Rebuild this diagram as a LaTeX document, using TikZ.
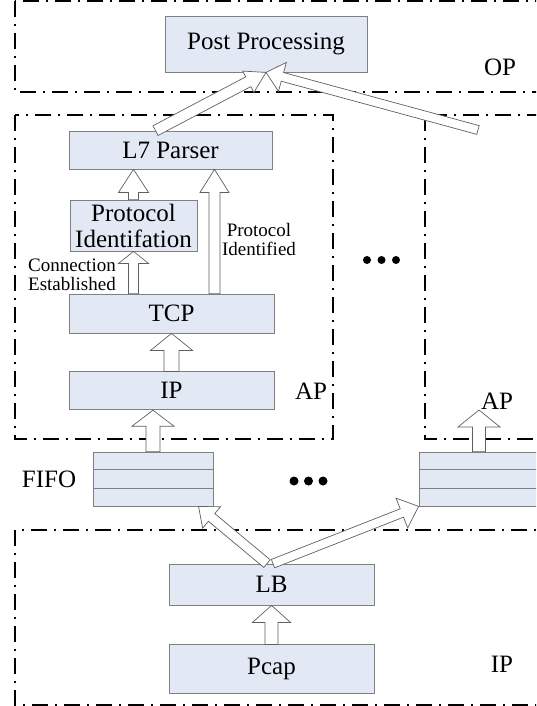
\documentclass[tikz,border=0pt]{standalone}
\usepackage{fontspec}
\setmainfont{Liberation Serif}
\usetikzlibrary{positioning,calc}

\definecolor{boxblue}{RGB}{226,233,244}
\definecolor{boxline}{RGB}{128,128,128}

% hollow block arrow: [opts]{from}{to}{shaft half width}{head half width}{head length}
\newcommand{\fatarrow}[6][]{%
  \draw[fat,#1] let \p1=($(#3)-(#2)$), \n1={atan2(\y1,\x1)}, \n2={veclen(\x1,\y1)} in
    [shift={(#2)}, rotate=\n1]
    (0,-#4) -- (\n2-#6,-#4) -- (\n2-#6,-#5) -- (\n2,0) -- (\n2-#6,#5) -- (\n2-#6,#4) -- (0,#4) -- cycle;}

\begin{document}
\begin{tikzpicture}[
  x=1pt, y=-1pt,
  every node/.style={font=\fontsize{25}{26}\selectfont},
  stage/.style={draw=boxline, fill=boxblue, line width=0.8pt, inner sep=0pt, align=center},
  region/.style={line width=2.4pt, dash pattern=on 16pt off 7pt on 2pt off 7pt},
  fat/.style={draw=gray!75!black, fill=white, line width=0.7pt},
  note/.style={font=\fontsize{19}{19}\selectfont},
  ]
  \useasboundingbox (0,0) rectangle (536,706);
  \clip (0,0) rectangle (536,706);

  % regions
  \draw [region] (15,1) rectangle (560,92);
  \draw [region] (15,115) rectangle (333,439);
  \draw [region] (425,115) rectangle (560,439);
  \draw [region] (15,530) rectangle (560,705);

  % boxes
  \node [stage, minimum width=202pt, minimum height=56pt] (pp) at (266,44) {Post Processing};
  \node [stage, minimum width=203pt, minimum height=38pt] (l7) at (170.5,150) {L7 Parser};
  \node [stage, minimum width=127pt, minimum height=51pt] (pi) at (133.5,225.5) {Protocol\\Identifation};
  \node [stage, minimum width=205pt, minimum height=39pt] (tcp) at (171.5,313.5) {TCP};
  \node [stage, minimum width=205pt, minimum height=38pt, below=38pt of tcp] (ip) {IP};
  \node [stage, minimum width=120pt, minimum height=54pt] (fifo1) at (153,479) {};
  \node [stage, minimum width=120pt, minimum height=54pt] (fifo2) at (479,479) {};
  \node [stage, minimum width=205pt, minimum height=41pt] (lb) at (271.5,584.5) {LB};
  \node [stage, minimum width=205pt, minimum height=49pt, below=39pt of lb] (pcap) {Pcap};

  \draw [boxline, line width=0.8pt] ([yshift=-18pt]fifo1.north west) -- ([yshift=-18pt]fifo1.north east);
  \draw [boxline, line width=0.8pt] ([yshift=18pt]fifo1.south west) -- ([yshift=18pt]fifo1.south east);
  \draw [boxline, line width=0.8pt] ([yshift=-18pt]fifo2.north west) -- ([yshift=-18pt]fifo2.north east);
  \draw [boxline, line width=0.8pt] ([yshift=18pt]fifo2.south west) -- ([yshift=18pt]fifo2.south east);

  % labels
  \node (op) at (500,67) {OP};
  \node (ap1) at (311,391) {AP};
  \node (ap2) at (497,401) {AP};
  \node (ipl) at (502,664) {IP};
  \node (fifo) at (49,479) {FIFO};
  \node [note, align=left] (conn) at (72,274.5) {Connection\\Established};
  \node [note, align=center] (ident) at (259,239.5) {Protocol\\Identified};

  % arrow ends
  \coordinate (pid) at ([xshift=43pt]tcp.north);
  \coordinate (l7tail) at ([xshift=-15pt]l7.north);
  \coordinate (rtail) at (478,130);
  \coordinate (aptip) at (479,410);
  \coordinate (lbleft) at ([xshift=-4.5pt]lb.north);
  \coordinate (lbright) at ([xshift=1.5pt]lb.north);
  \coordinate (f1tip) at ([xshift=-15pt]fifo1.south east);

  % arrows
  \fatarrow{pi.north}{pi.north |- l7.south}{5}{15}{23}
  \fatarrow{pid}{pid |- l7.south}{5.5}{14.5}{23}
  \fatarrow{pi.south |- tcp.north}{pi.south}{5}{15}{12}
  \fatarrow{ip.north}{tcp.south}{7.5}{21}{17}
  \fatarrow{fifo1.north}{fifo1.north |- ip.south}{7}{21}{16}
  \fatarrow{fifo2.north}{aptip}{6.5}{21}{17}
  \fatarrow{pcap.north}{lb.south}{6.5}{19}{17}
  \fatarrow{lbleft}{f1tip}{5}{14}{17}
  \fatarrow{lbright}{fifo2.south west}{4.5}{16}{18}
  \fatarrow{rtail}{pp.south}{4.5}{15}{17}
  \fatarrow{l7tail}{pp.south}{5.5}{12}{20}

  % more instances
  \foreach \dx in {0,14.5,29} {
    \fill (294+\dx,481) circle (4.5);
    \fill (367+\dx,260) circle (4);
  }
\end{tikzpicture}
\end{document}
